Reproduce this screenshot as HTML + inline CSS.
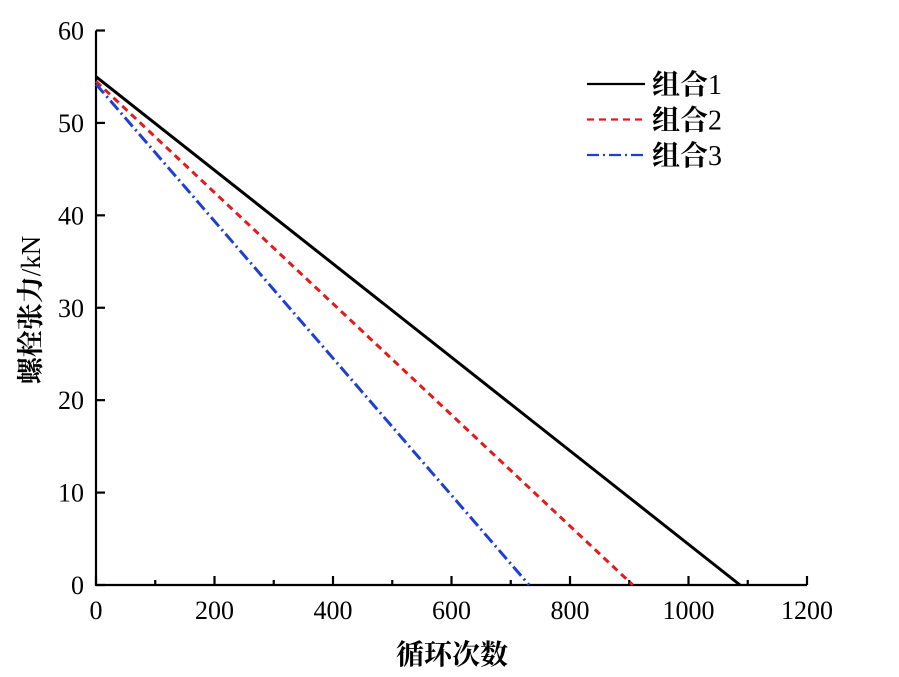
<!DOCTYPE html>
<html><head><meta charset="utf-8"><style>
body{margin:0;background:#fff}
svg{display:block;font-family:"Liberation Serif","Noto Serif CJK SC",serif}
</style></head><body>
<svg id="chart" width="899" height="677"></svg>
<script>
const xTicks=[0,200,400,600,800,1000,1200];
const yTicks=[0,10,20,30,40,50,60];
const seriesNames=["组合1","组合2","组合3"];
const startVals=[55,54.5,54.2];
const endCycles=[1087,906,731];
const colors=["#000","#e41a1c","#1f3fd0"];
const dashes=["","7,5","12,4,2,4"];
const X0=96,X1=807,Y0=585,Y1=30.5;
const xs=v=>X0+(v-0)/1200*(X1-X0);
const ys=v=>Y0-(v/60)*(Y0-Y1);
const svg=document.getElementById('chart');
const NS="http://www.w3.org/2000/svg";
function mk(t,a,p){const e=document.createElementNS(NS,t);for(const k in a)e.setAttribute(k,a[k]);(p||svg).appendChild(e);return e;}
function mixed(el,cjk,latin){const a=mk('tspan',{'font-weight':'bold'},el);a.textContent=cjk;const b=mk('tspan',{},el);b.textContent=latin;}
const ax=mk('path',{d:`M${X0},${Y1}V${Y0}H${X1}`,fill:'none',stroke:'#000','stroke-width':2.2});


xTicks.forEach(v=>{
 const l=mk('line',{x1:xs(v),x2:xs(v),y1:Y0,y2:Y0-9,stroke:'#000','stroke-width':2.2});
 
 
 const t=mk('text',{x:xs(v),y:Y0+34,'text-anchor':'middle','font-size':26});
 t.textContent=v;
 
 
});
for(let v=100;v<1200;v+=200){
 const l=mk('line',{x1:xs(v),x2:xs(v),y1:Y0,y2:Y0-5,stroke:'#000','stroke-width':2.2});
 
 
}
yTicks.forEach(v=>{
 const l=mk('line',{x1:X0,x2:X0+9,y1:ys(v),y2:ys(v),stroke:'#000','stroke-width':2.2});
 
 
 const t=mk('text',{x:X0-12,y:ys(v)+9,'text-anchor':'end','font-size':26});
 t.textContent=v;
 
 
});
const xt=mk('text',{x:452,y:664,'text-anchor':'middle','font-size':28,'font-weight':'bold'});
xt.textContent="循环次数";


const yt=mk('text',{x:0,y:0,'text-anchor':'middle','font-size':27,transform:'translate(40,310) rotate(-90)'});
mixed(yt,"螺栓张力","/kN");


seriesNames.forEach((n,i)=>{
 const l=mk('line',{x1:xs(0),y1:ys(startVals[i]),x2:xs(endCycles[i]),y2:ys(0),stroke:colors[i],'stroke-width':3,'stroke-dasharray':dashes[i]});
 
 
 const ly=84+i*35.5;
 const ll=mk('line',{x1:587,x2:645,y1:ly,y2:ly,stroke:colors[i],'stroke-width':2.2,'stroke-dasharray':dashes[i]});
 
 
 const lt=mk('text',{x:652,y:ly+10,'font-size':28});
 mixed(lt,n.slice(0,2),n.slice(2));
 
 
});
</script>
</body></html>
